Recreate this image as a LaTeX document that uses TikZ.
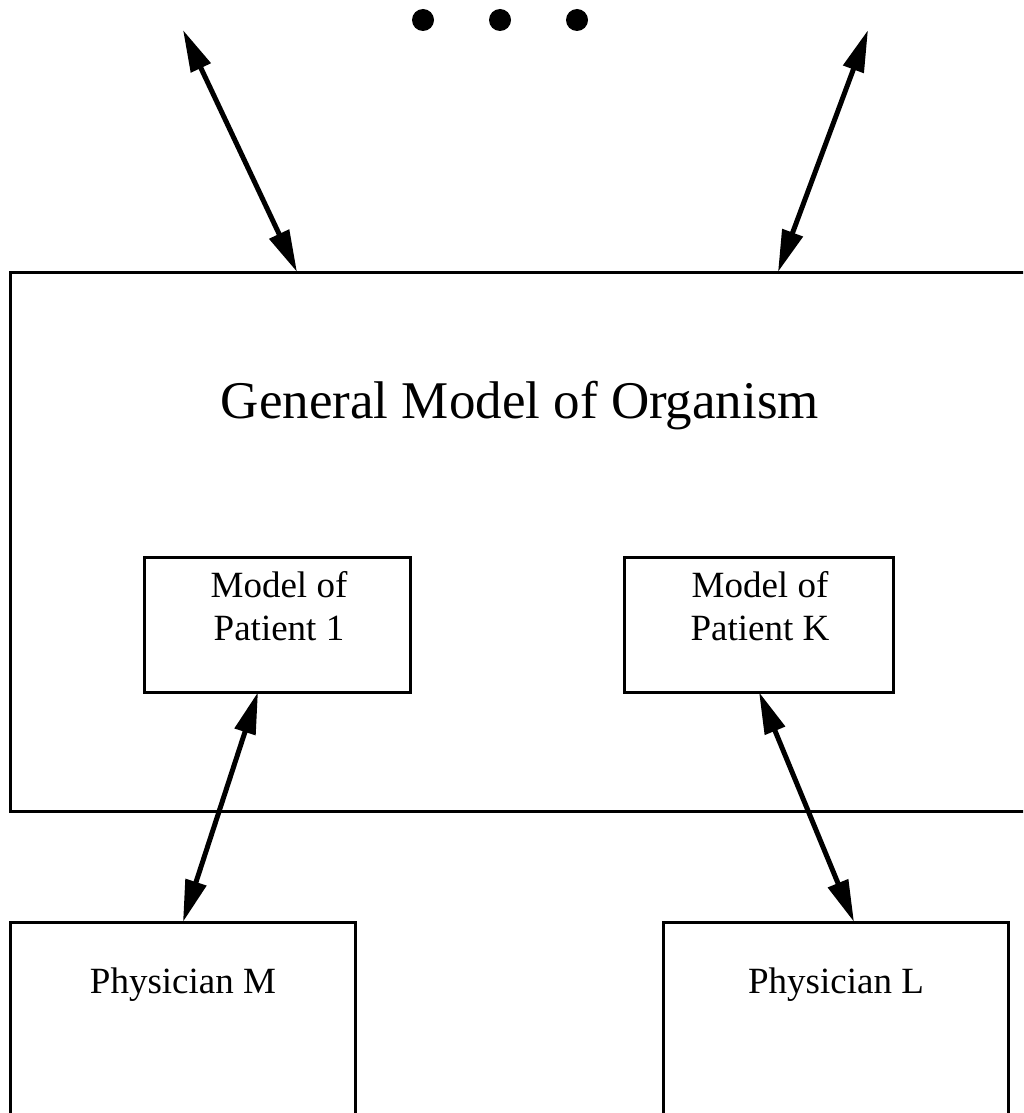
\documentclass[tikz,border=0pt]{standalone}
\usepackage{fontspec}
\setmainfont{Liberation Serif}
\usetikzlibrary{arrows.meta,calc}
\begin{document}
\begin{tikzpicture}[x=1pt,y=-1pt,
  boxed/.style={draw,line width=3pt,inner sep=0pt,outer sep=0pt,anchor=center},
  biarrow/.style={line width=5pt,{Triangle[length=42pt,width=21pt]}-{Triangle[length=42pt,width=21pt]}},
  bigtext/.style={font=\fontsize{53}{60}\selectfont,anchor=base,inner sep=0pt},
  smalltext/.style={font=\fontsize{37}{43}\selectfont,anchor=base,inner sep=0pt},
  dot/.style={circle,fill=black,inner sep=0pt,minimum size=22pt}]
\useasboundingbox (0,0) rectangle (1023,1113);
\clip (0,0) rectangle (1023,1113);
% boxes
\node[boxed,minimum width=1035pt,minimum height=539pt] (big) at (527.5,541.5) {};
\node[boxed,minimum width=266pt,minimum height=135pt] (p1) at (277,624.5) {};
\node[boxed,minimum width=269pt,minimum height=135pt] (pK) at (758.5,624.5) {};
\node[boxed,minimum width=345pt,minimum height=218pt] (phM) at (182.5,1031) {};
\node[boxed,minimum width=345pt,minimum height=218pt] (phL) at (835.5,1031) {};
% texts
\node[bigtext] (tbig) at (520,418) {General Model of Organism};
\node[smalltext] (tp1a) at (279,597) {Model of};
\node[smalltext] (tp1b) at (279,640) {Patient 1};
\node[smalltext] (tpKa) at (760,597) {Model of};
\node[smalltext] (tpKb) at (760,640) {Patient K};
\node[smalltext] (tphM) at (183,993) {Physician M};
\node[smalltext] (tphL) at (836,993) {Physician L};
% dots
\node[dot] (d1) at (423,20) {};
\node[dot] (d2) at (500,20) {};
\node[dot] (d3) at (577,20) {};
% arrows
\coordinate (t1) at (183,30);
\coordinate (t2) at (868,30);
\draw[biarrow] (t1) -- ($(big.north west)+(287,0)$);
\draw[biarrow] (t2) -- ($(big.north west)+(768,0)$);
\draw[biarrow] ($(p1.south west)+(114,0)$) -- ($(phM.north west)+(173,0)$);
\draw[biarrow] ($(pK.south west)+(135,0)$) -- ($(phL.north west)+(191,0)$);
\end{tikzpicture}
\end{document}
